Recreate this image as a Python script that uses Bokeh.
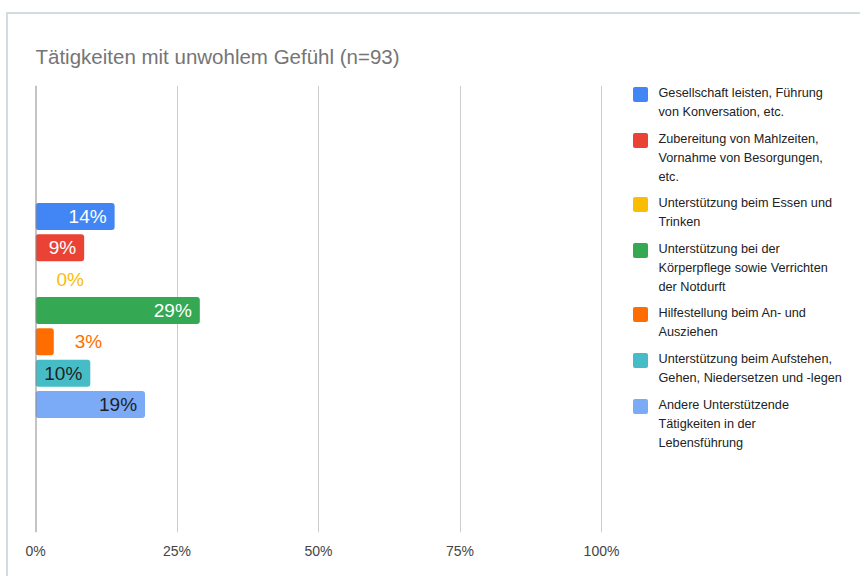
from bokeh.plotting import figure
from bokeh.models import Range1d, FixedTicker, Span, ColumnDataSource, CustomJSTickFormatter
from bokeh.core.properties import value
from bokeh.embed import file_html
from bokeh.resources import INLINE

# ---- data ----
title = "Tätigkeiten mit unwohlem Gefühl (n=93)"
categories = [
    "Gesellschaft leisten, Führung\nvon Konversation, etc.",
    "Zubereitung von Mahlzeiten,\nVornahme von Besorgungen,\netc.",
    "Unterstützung beim Essen und\nTrinken",
    "Unterstützung bei der\nKörperpflege sowie Verrichten\nder Notdurft",
    "Hilfestellung beim An- und\nAusziehen",
    "Unterstützung beim Aufstehen,\nGehen, Niedersetzen und -legen",
    "Andere Unterstützende\nTätigkeiten in der\nLebensführung",
]
shares = [13.98, 8.60, 0.0, 29.03, 3.23, 9.68, 19.35]   # percent of n=93
colors = ["#4285f4", "#ea4335", "#fbbc04", "#34a853", "#ff6d01", "#46bdc6", "#7baaf7"]
x_ticks = [0, 25, 50, 75, 100]

FONT = "Liberation Sans"

# ---- geometry (layout) ----
W, H = 854, 564
left_b, top_b, bottom_b = 27, 71, 46
frame_w = W - left_b
frame_h = H - top_b - bottom_b
px_per_pct = 566 / 100.0
row_px = 31.33
first_row_px = 131      # distance from frame top to first bar centre
n = len(categories)
y_top = -first_row_px / row_px
y_bot = y_top + frame_h / row_px

p = figure(width=W, height=H, output_backend="svg", toolbar_location=None,
           x_range=Range1d(0, frame_w / px_per_pct),
           y_range=Range1d(y_bot, y_top),
           min_border_left=left_b, min_border_right=0,
           min_border_top=top_b, min_border_bottom=bottom_b)
p.extra_x_ranges = {"px": Range1d(0, frame_w)}
p.extra_y_ranges = {"px": Range1d(frame_h, 0)}
p.margin = (12, 0, 0, 6)
p.styles = {"border-top": "2px solid #d5dcdf", "border-left": "2px solid #d5dcdf"}

p.title.text = title
p.title.text_font = FONT
p.title.text_font_size = "20.5px"
p.title.text_font_style = "normal"
p.title.text_color = "#757575"
p.title.align = "left"
p.title.offset = 0
p.title.standoff = 35

p.outline_line_color = None
p.yaxis.visible = False
p.ygrid.visible = False
p.xgrid.ticker = FixedTicker(ticks=x_ticks)
p.xgrid.grid_line_color = "#cccccc"
p.xaxis.ticker = FixedTicker(ticks=x_ticks)
p.xaxis.formatter = CustomJSTickFormatter(code="return tick + '%';")
p.xaxis.axis_line_color = None
p.xaxis.major_tick_line_color = None
p.xaxis.minor_tick_line_color = None
p.xaxis.major_label_text_font = FONT
p.xaxis.major_label_text_font_size = "14px"
p.xaxis.major_label_text_color = "#444444"
p.xaxis.major_label_standoff = 4

# bars
idx = list(range(n))
src = ColumnDataSource(dict(y=idx, v=shares, c=colors))
p.hbar(y="y", left=0, right="v", height=27 / row_px, fill_color="c",
       line_color=None, border_radius=3, source=src)

p.add_layout(Span(location=0, dimension="height", line_color="#8a8a8a", line_width=2))

# value labels
def is_dark(hexc):
    r, g, b = (int(hexc[i:i + 2], 16) for i in (1, 3, 5))
    return 0.299 * r + 0.587 * g + 0.114 * b < 150

lab_x, lab_txt, lab_col, lab_align, lab_off = [], [], [], [], []
for v, c in zip(shares, colors):
    lab_x.append(v)
    lab_txt.append(f"{round(v)}%")
    if v * px_per_pct > 45:
        lab_align.append("right")
        lab_off.append(-8)
        lab_col.append("#ffffff" if is_dark(c) else "#1f1f1f")
    else:
        lab_align.append("left")
        lab_off.append(21)
        lab_col.append(c)
p.text(x=lab_x, y=idx, text=lab_txt, text_color=lab_col, text_align=lab_align,
       x_offset=lab_off, text_baseline="middle", text_font=value(FONT),
       text_font_size="19px")

# legend (drawn in frame-pixel coordinates)
leg_sq_x = 640 - 35
leg_tx = 658 - 35
line_h = 18
gap = 10
ys = []
y = 94 - 85
for lab in categories:
    ys.append(y)
    y += lab.count("\n") * line_h + line_h + gap
p.rect(x=[leg_sq_x] * n, y=ys, width=15, height=15, fill_color=colors,
       line_color=None, border_radius=2, x_range_name="px", y_range_name="px")
p.text(x=[leg_tx] * n, y=[v - 17.5 / 2 for v in ys], text=categories,
       text_color="#222222", text_align="left", text_baseline="top",
       text_font=value(FONT), text_font_size="12.7px",
       text_line_height=17.5 / 12.7, x_range_name="px", y_range_name="px")

open("out.html", "w").write(file_html(p, INLINE))
